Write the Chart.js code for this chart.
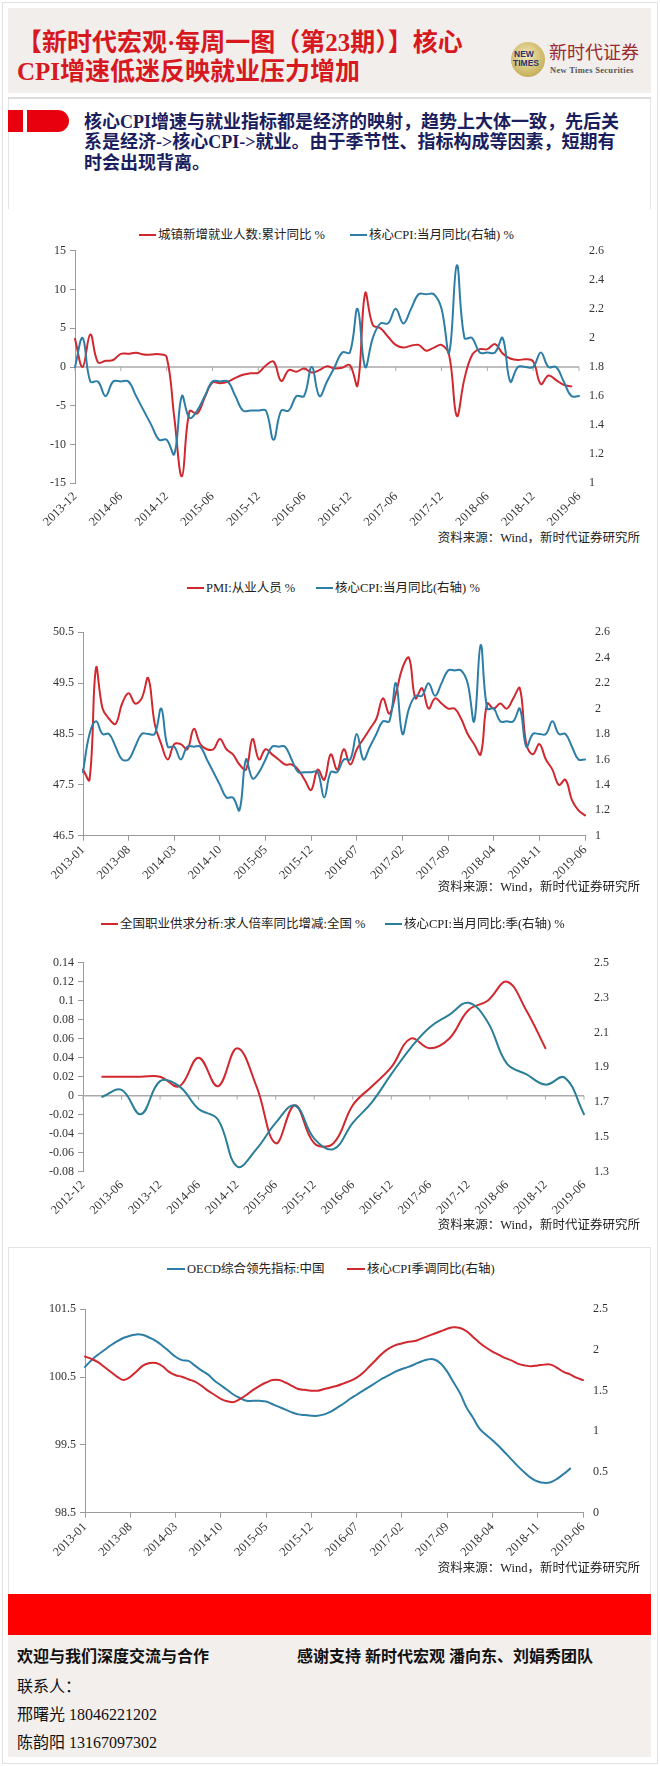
<!DOCTYPE html>
<html><head><meta charset="utf-8">
<script src="https://cdn.jsdelivr.net/npm/chart.js@4.4.0/dist/chart.umd.min.js"></script>
<style>
html,body{margin:0;padding:0;background:#fff;}
body{width:660px;height:1766px;position:relative;overflow:hidden;font-family:"Liberation Serif","Noto Sans CJK SC",serif;color:#222;}
.abs{position:absolute;}
.frame{left:2px;top:2px;width:656px;height:1762px;border:1px solid #e2e2e2;box-sizing:border-box;}
.header{left:8px;top:8px;width:643px;height:85px;background:#f1eeec;}
.title{left:17px;top:28px;font-size:25px;line-height:29px;font-weight:bold;color:#d7181e;white-space:nowrap;}
.logo{left:511px;top:42px;width:34px;height:35px;border-radius:50%;background:radial-gradient(circle at 45% 40%,#f3e9b8,#c9b25e 70%,#a89140);}
.logo span{position:absolute;font-family:"Liberation Sans",sans-serif;font-weight:bold;color:#2a3470;font-size:8.5px;line-height:9px;white-space:nowrap;}
.brand{left:549px;top:42px;font-size:18px;line-height:22px;color:#9b2a2c;white-space:nowrap;}
.brand2{left:550px;top:65px;font-size:8.5px;line-height:10px;color:#555;white-space:nowrap;font-weight:bold;letter-spacing:0.3px;}
.sep{left:8px;top:97px;width:643px;height:2px;background:#dcdcdc;}
.panel{left:8px;top:99px;width:643px;height:110px;border-left:1px solid #e4e4e4;border-right:1px solid #e4e4e4;box-sizing:border-box;}
.rb1{left:8px;top:110px;width:15px;height:22px;background:#e8000e;}
.rb2{left:27px;top:110px;width:42px;height:22px;background:#e8000e;border-radius:0 11px 11px 0;}
.intro{left:84px;top:111.5px;font-size:18px;line-height:20.5px;font-weight:bold;color:#1b1e5e;white-space:nowrap;}
.lg{position:absolute;display:flex;align-items:center;white-space:nowrap;font-size:12.5px;line-height:14px;color:#222;transform:translateY(-50%);}
.lg i{display:inline-block;height:2px;margin-right:2px;}
.src{position:absolute;right:20px;font-size:12.5px;line-height:14px;color:#222;white-space:nowrap;transform:translateY(-50%);}
.cv{position:absolute;left:10px;}
.p4{left:8px;top:1247px;width:643px;height:347px;border:1px solid #e4e4e4;border-bottom:none;box-sizing:border-box;}
.band{left:8px;top:1594px;width:643px;height:41px;background:#ff0000;}
.foot{left:8px;top:1635px;width:643px;height:122px;background:#f2efed;}
.ft{position:absolute;font-size:16px;line-height:20px;color:#111;white-space:nowrap;}
</style>
</head>
<body>
<div class="abs frame"></div>
<div class="abs header"></div>
<div class="abs title">【新时代宏观·每周一图（第23期）】核心<br>CPI增速低迷反映就业压力增加</div>
<div class="abs logo"><span style="left:3px;top:8px;">NEW</span><span style="left:2px;top:17px;">TIMES</span></div>
<div class="abs brand">新时代证券</div>
<div class="abs brand2">New Times Securities</div>
<div class="abs sep"></div>
<div class="abs panel"></div>
<div class="abs rb1"></div>
<div class="abs rb2"></div>
<div class="abs intro">核心CPI增速与就业指标都是经济的映射，趋势上大体一致，先后关<br>系是经济-&gt;核心CPI-&gt;就业。由于季节性、指标构成等因素，短期有<br>时会出现背离。</div>

<!-- chart 1 -->
<div class="lg" style="left:139px;top:235px"><i style="width:17px;background:#d0282e"></i><span>城镇新增就业人数:累计同比 %</span></div>
<div class="lg" style="left:350px;top:235px"><i style="width:17px;background:#2c7ea6"></i><span>核心CPI:当月同比(右轴) %</span></div>
<canvas id="c1" class="cv" width="640" height="300" style="top:230px"></canvas>
<div class="src" style="top:538px">资料来源：Wind，新时代证券研究所</div>

<!-- chart 2 -->
<div class="lg" style="left:187px;top:588px"><i style="width:17px;background:#d0282e"></i><span>PMI:从业人员 %</span></div>
<div class="lg" style="left:316px;top:588px"><i style="width:17px;background:#2c7ea6"></i><span>核心CPI:当月同比(右轴) %</span></div>
<canvas id="c2" class="cv" width="640" height="270" style="top:612px"></canvas>
<div class="src" style="top:887px">资料来源：Wind，新时代证券研究所</div>

<!-- chart 3 -->
<div class="lg" style="left:101px;top:924px"><i style="width:17px;background:#d0282e"></i><span>全国职业供求分析:求人倍率同比增减:全国 %</span></div>
<div class="lg" style="left:385px;top:924px"><i style="width:17px;background:#2a7f98"></i><span>核心CPI:当月同比:季(右轴) %</span></div>
<canvas id="c3" class="cv" width="640" height="278" style="top:942px"></canvas>
<div class="src" style="top:1225px">资料来源：Wind，新时代证券研究所</div>

<!-- chart 4 -->
<div class="abs p4"></div>
<div class="lg" style="left:167px;top:1269px"><i style="width:18px;background:#2c7ea6"></i><span>OECD综合领先指标:中国</span></div>
<div class="lg" style="left:347px;top:1269px"><i style="width:18px;background:#d0282e"></i><span>核心CPI季调同比(右轴)</span></div>
<canvas id="c4" class="cv" width="640" height="272" style="top:1289px"></canvas>
<div class="src" style="top:1568px">资料来源：Wind，新时代证券研究所</div>

<div class="abs band"></div>
<div class="abs foot"></div>
<div class="ft" style="left:17px;top:1647px;font-weight:bold;">欢迎与我们深度交流与合作</div>
<div class="ft" style="left:297px;top:1647px;font-weight:bold;">感谢支持 新时代宏观 潘向东、刘娟秀团队</div>
<div class="ft" style="left:17px;top:1677px;">联系人：</div>
<div class="ft" style="left:17px;top:1705px;">邢曙光 18046221202</div>
<div class="ft" style="left:17px;top:1733px;">陈韵阳 13167097302</div>

<script>
// ---------- categories ----------
function months(y0, m0, y1, m1, step) {
  step = step || 1;
  const out = []; let y = y0, m = m0;
  while (y < y1 || (y === y1 && m <= m1)) {
    out.push(y + '-' + String(m).padStart(2, '0'));
    m += step; while (m > 12) { m -= 12; y++; }
  }
  return out;
}
const cats1 = months(2013, 12, 2019, 6);      // monthly
const cats2 = months(2013, 1, 2019, 6);       // monthly
const cats3 = months(2012, 12, 2019, 6, 3);   // quarterly
const cats4 = months(2013, 1, 2019, 6);

// ---------- tick labels ----------
const xTicks1 = ['2013-12','2014-06','2014-12','2015-06','2015-12','2016-06','2016-12','2017-06','2017-12','2018-06','2018-12','2019-06'];
const xTicks2 = ['2013-01','2013-08','2014-03','2014-10','2015-05','2015-12','2016-07','2017-02','2017-09','2018-04','2018-11','2019-06'];
const xTicks3 = ['2012-12','2013-06','2013-12','2014-06','2014-12','2015-06','2015-12','2016-06','2016-12','2017-06','2017-12','2018-06','2018-12','2019-06'];
const xTicks4 = ['2013-01','2013-08','2014-03','2014-10','2015-05','2015-12','2016-07','2017-02','2017-09','2018-04','2018-11','2019-06'];
const yLeft1 = [-15,-10,-5,0,5,10,15];
const yRight1 = [1,1.2,1.4,1.6,1.8,2,2.2,2.4,2.6];
const yLeft2 = [46.5,47.5,48.5,49.5,50.5];
const yRight2 = [1,1.2,1.4,1.6,1.8,2,2.2,2.4,2.6];
const yLeft3 = [-0.08,-0.06,-0.04,-0.02,0,0.02,0.04,0.06,0.08,0.1,0.12,0.14];
const yRight3 = [1.3,1.5,1.7,1.9,2.1,2.3,2.5];
const yLeft4 = [98.5,99.5,100.5,101.5];
const yRight4 = [0,0.5,1,1.5,2,2.5];

// ---------- series ----------
// 核心CPI 当月同比, 2013-01 .. 2019-06
const coreCPI = [1.5,1.8,1.9,1.8,1.8,1.7,1.6,1.6,1.7,1.8,1.8,
  1.8,2.0,1.7,1.7,1.6,1.7,1.7,1.7,1.6,1.5,1.4,1.3,
  1.3,1.2,1.6,1.45,1.5,1.6,1.7,1.7,1.7,1.6,1.5,1.5,
  1.5,1.5,1.3,1.5,1.5,1.6,1.6,1.8,1.6,1.7,1.8,1.9,
  1.9,2.2,1.8,2.0,2.1,2.1,2.2,2.1,2.2,2.3,2.3,2.3,
  2.2,1.9,2.5,2.0,2.0,1.9,1.9,1.9,2.0,1.7,1.8,1.8,
  1.8,1.9,1.8,1.8,1.7,1.6,1.6];
// 城镇新增就业人数:累计同比, 2013-12 .. 2019-06
const urbanJobs = [3.6,0.0,4.2,0.6,0.8,0.9,1.7,1.7,1.85,1.6,1.6,1.65,
  1.3,-6.5,-14.1,-5.7,-6.0,-3.9,-2.0,-2.1,-1.9,-1.4,-1.0,-0.8,
  -0.75,0.2,0.7,-1.8,-0.4,-0.6,-0.2,-0.7,-0.4,0.1,-0.2,-0.1,
  0.25,-2.4,9.5,5.4,5.0,3.9,2.85,2.5,2.75,2.85,2.1,2.5,
  2.85,1.5,-6.3,-1.5,1.55,2.3,2.3,2.95,1.75,1.1,0.9,1.0,
  0.7,-2.2,-1.1,-1.7,-2.3,-2.5,null];
// PMI:从业人员, 2013-01 .. 2019-06
const pmiEmp = [47.8,47.6,49.8,49.0,48.8,48.7,49.1,49.3,49.1,49.2,
  49.6,48.7,48.3,48.0,48.3,48.3,48.2,48.6,48.3,48.2,
  48.2,48.4,48.2,48.1,47.9,47.8,48.4,48.0,48.2,48.1,
  48.0,47.9,47.9,47.8,47.6,47.4,47.8,47.6,48.1,47.8,
  48.2,47.9,48.2,48.4,48.6,48.8,49.2,48.9,49.3,49.8,
  50.0,49.2,49.4,49.0,49.2,49.1,49.0,49.0,48.8,48.5,
  48.3,48.1,49.1,49.0,49.1,49.0,49.2,49.4,48.3,48.1,
  48.3,48.0,47.8,47.5,47.6,47.2,47.0,46.9];
// 求人倍率同比增减 (quarterly, 2012-12 .. 2019-06)
const jobRatio = [null,0.02,0.02,0.02,0.02,0.01,0.04,0.01,0.05,0.01,-0.05,-0.01,-0.05,-0.05,
  -0.01,0.01,0.03,0.06,0.05,0.06,0.09,0.10,0.12,0.09,0.05,null,null];
// 核心CPI 当月同比:季 (quarterly)
const coreCPIq = [null,1.73,1.77,1.63,1.82,1.79,1.66,1.60,1.33,1.43,1.58,1.68,1.49,1.43,
  1.58,1.70,1.86,2.01,2.13,2.20,2.27,2.16,1.92,1.86,1.80,1.84,1.63];
// OECD综合领先指标:中国, 2013-01 .. 2019-06
const oecdCLI = [100.65,100.75,100.83,100.9,100.97,101.03,101.08,101.11,101.13,101.12,
  101.08,101.03,100.96,100.88,100.8,100.75,100.74,100.67,100.6,100.54,
  100.45,100.38,100.31,100.24,100.19,100.15,100.15,100.15,100.14,100.1,
  100.06,100.02,99.98,99.95,99.94,99.93,99.93,99.95,99.99,100.05,
  100.11,100.18,100.24,100.3,100.36,100.42,100.48,100.53,100.58,100.62,
  100.65,100.69,100.73,100.76,100.76,100.7,100.58,100.42,100.26,100.05,
  99.9,99.74,99.65,99.57,99.48,99.38,99.28,99.18,99.09,99.01,
  98.96,98.94,98.95,99.0,99.07,99.15,null,null];
// 核心CPI季调同比, 2013-01 .. 2019-06
const coreCPIsa = [1.92,1.89,1.85,1.79,1.73,1.67,1.63,1.67,1.74,1.81,
  1.84,1.84,1.8,1.73,1.69,1.67,1.64,1.61,1.56,1.5,
  1.45,1.4,1.37,1.36,1.4,1.45,1.51,1.56,1.6,1.63,
  1.63,1.6,1.56,1.52,1.51,1.5,1.5,1.52,1.54,1.56,
  1.59,1.62,1.66,1.72,1.8,1.88,1.96,2.02,2.06,2.08,
  2.1,2.11,2.14,2.17,2.2,2.23,2.26,2.28,2.27,2.23,
  2.16,2.09,2.03,1.98,1.94,1.9,1.87,1.83,1.81,1.8,
  1.81,1.82,1.82,1.78,1.73,1.7,1.66,1.63];

const RED = '#d0282e', BLUE = '#2c7ea6', TEAL = '#2a7f98';
const AXIS = '#9a9a9a';
Chart.defaults.font.family = "'Liberation Serif','Noto Sans CJK SC',serif";
Chart.defaults.color = '#333';

const fmt = v => String(Math.round(v * 10000) / 10000);

const zeroLine = {
  id: 'zeroLine',
  beforeDatasetsDraw(chart, args, opts) {
    if (!opts || !opts.on) return;
    const {ctx, chartArea: a, scales} = chart;
    const y = scales.yL.getPixelForValue(0);
    ctx.save();
    ctx.strokeStyle = '#aaaaaa';
    ctx.lineWidth = 1.5;
    ctx.beginPath(); ctx.moveTo(a.left, y); ctx.lineTo(a.right, y); ctx.stroke();
    ctx.lineWidth = 1;
    const xs = scales.x, labs = xs.getLabels();
    opts.ticks.forEach(l => {
      const px = xs.getPixelForValue(labs.indexOf(l));
      ctx.beginPath(); ctx.moveTo(px, y); ctx.lineTo(px, y + 4); ctx.stroke();
    });
    ctx.restore();
  }
};

function makeChart(id, c) {
  const shown = new Set(c.xTicks);
  const datasets = c.series.map(s => ({
    label: s.label, data: s.data, yAxisID: s.axis,
    borderColor: s.color, backgroundColor: s.color, borderWidth: 2,
    pointRadius: 0, tension: 0.4, spanGaps: false, order: s.order,
    borderCapStyle: 'round', borderJoinStyle: 'round'
  }));
  return new Chart(document.getElementById(id), {
    type: 'line',
    data: { labels: c.labels, datasets },
    plugins: [zeroLine],
    options: {
      responsive: false, animation: false, devicePixelRatio: 1, events: [],
      layout: { padding: { top: c.padTop, left: 0, right: 0, bottom: 0 } },
      plugins: { legend: { display: false }, tooltip: { enabled: false },
        zeroLine: { on: c.zero, ticks: c.xTicks } },
      scales: {
        x: {
          type: 'category', offset: false,
          border: { display: !c.zero, color: AXIS, width: 1 },
          grid: { display: true, drawOnChartArea: false, drawTicks: !c.zero, tickLength: 5,
            color: ctx => (shown.has(c.labels[ctx.index]) ? AXIS : 'rgba(0,0,0,0)') },
          ticks: { autoSkip: false, minRotation: 45, maxRotation: 45, padding: c.zero ? 6 : 2,
            font: { size: 12.5 }, color: '#333',
            callback: function (v) { const l = this.getLabelForValue(v); return shown.has(l) ? l : ''; } },
          afterFit: s => { s.height = c.xh; }
        },
        yL: {
          position: 'left', min: c.yL[0], max: c.yL[c.yL.length - 1],
          afterBuildTicks: s => { s.ticks = c.yL.map(v => ({ value: v })); },
          border: { display: true, color: AXIS, width: 1 },
          grid: { drawOnChartArea: false, drawTicks: true, tickLength: 5, color: AXIS },
          ticks: { padding: 4, font: { size: 12 }, color: '#333', callback: v => fmt(v) },
          afterFit: s => { s.width = c.lw; }
        },
        yR: {
          position: 'right', min: c.yR[0], max: c.yR[c.yR.length - 1],
          afterBuildTicks: s => { s.ticks = c.yR.map(v => ({ value: v })); },
          border: { display: false },
          grid: { display: false, drawTicks: false },
          ticks: { padding: 10, font: { size: 12 }, color: '#333', callback: v => fmt(v) },
          afterFit: s => { s.width = c.rw; }
        }
      }
    }
  });
}

makeChart('c1', {
  labels: cats1, xTicks: xTicks1, yL: yLeft1, yR: yRight1, zero: true,
  padTop: 20.7, lw: 65, rw: 71, xh: 46.7,
  series: [
    { label: '城镇新增就业人数:累计同比 %', data: urbanJobs, axis: 'yL', color: RED, order: 2 },
    { label: '核心CPI:当月同比(右轴) %', data: coreCPI.slice(11), axis: 'yR', color: BLUE, order: 1 }
  ]
});
makeChart('c2', {
  labels: cats2, xTicks: xTicks2, yL: yLeft2, yR: yRight2, zero: false,
  padTop: 20.3, lw: 73, rw: 65, xh: 46.3,
  series: [
    { label: 'PMI:从业人员 %', data: pmiEmp, axis: 'yL', color: RED, order: 2 },
    { label: '核心CPI:当月同比(右轴) %', data: coreCPI, axis: 'yR', color: BLUE, order: 1 }
  ]
});
makeChart('c3', {
  labels: cats3, xTicks: xTicks3, yL: yLeft3, yR: yRight3, zero: true,
  padTop: 20.7, lw: 73, rw: 66, xh: 48.3,
  series: [
    { label: '全国职业供求分析:求人倍率同比增减:全国 %', data: jobRatio, axis: 'yL', color: RED, order: 2 },
    { label: '核心CPI:当月同比:季(右轴) %', data: coreCPIq, axis: 'yR', color: TEAL, order: 1 }
  ]
});
makeChart('c4', {
  labels: cats4, xTicks: xTicks4, yL: yLeft4, yR: yRight4, zero: false,
  padTop: 20.3, lw: 75, rw: 67, xh: 48.3,
  series: [
    { label: 'OECD综合领先指标:中国', data: oecdCLI, axis: 'yL', color: BLUE, order: 2 },
    { label: '核心CPI季调同比(右轴)', data: coreCPIsa, axis: 'yR', color: RED, order: 1 }
  ]
});
</script>
</body></html>
